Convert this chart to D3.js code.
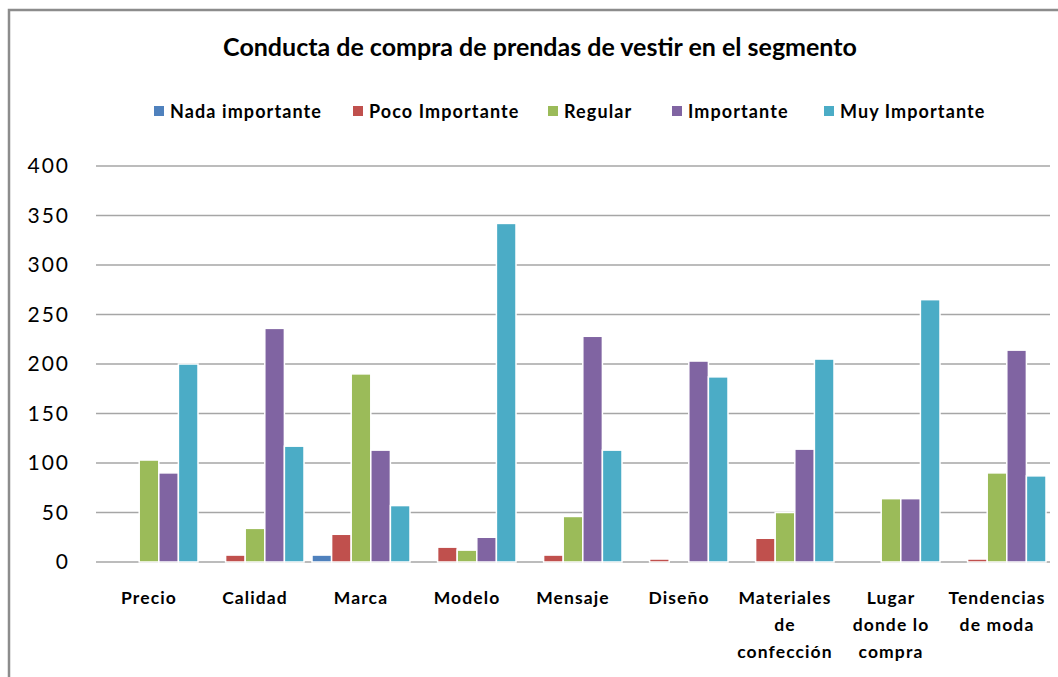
<!DOCTYPE html>
<html>
<head>
<meta charset="utf-8">
<script src="https://cdn.jsdelivr.net/npm/d3@7"></script>
<style>
  body { margin: 0; background: #fff; }
  text { font-family: Lato, "Open Sans", sans-serif; fill: #000; }
</style>
</head>
<body>
<svg id="chart"></svg>
<script>
const categories = [
  ["Precio"], ["Calidad"], ["Marca"], ["Modelo"], ["Mensaje"], ["Diseño"],
  ["Materiales", "de", "confección"], ["Lugar", "donde lo", "compra"], ["Tendencias", "de moda"]
];
const seriesNames = ["Nada importante", "Poco Importante", "Regular", "Importante", "Muy Importante"];
const colors = ["#4F81BD", "#C0504D", "#9BBB59", "#8064A2", "#4BACC6"];

const nadaImportante = [0, 0, 7, 0, 0, 0, 0, 0, 0];
const pocoImportante = [0, 7, 28, 15, 7, 3, 24, 0, 3];
const regular        = [103, 34, 190, 12, 46, 0, 50, 64, 90];
const importante     = [90, 236, 113, 25, 228, 203, 114, 64, 214];
const muyImportante  = [200, 117, 57, 342, 113, 187, 205, 265, 87];
const yTicks = [0, 50, 100, 150, 200, 250, 300, 350, 400];

const series = [nadaImportante, pocoImportante, regular, importante, muyImportante];

const W = 1058, H = 677;
const svg = d3.select("#chart").attr("width", W).attr("height", H);

// chart area border (left and top only visible)
svg.append("path")
  .attr("d", `M9,${H} V10 H${W}`)
  .attr("fill", "none")
  .attr("stroke", "#8c8c8c")
  .attr("stroke-width", 2.5);

const plot = { left: 96, right: 1050, top: 166, bottom: 562 };

const x = d3.scaleBand()
  .domain(categories.map((d, i) => i))
  .range([plot.left, plot.right]);

const xSub = d3.scaleBand()
  .domain(seriesNames.map((d, i) => i))
  .range([4, x.bandwidth() - 4]);

const y = d3.scaleLinear()
  .domain([0, 400])
  .range([plot.bottom, plot.top]);

// gridlines
svg.append("g")
  .selectAll("line")
  .data(yTicks)
  .join("line")
  .attr("x1", plot.left)
  .attr("x2", plot.right)
  .attr("y1", d => y(d))
  .attr("y2", d => y(d))
  .attr("stroke", "#a6a6a6")
  .attr("stroke-width", 1.5);

// y axis labels
const yAxis = d3.axisLeft(y).tickValues(yTicks).tickSize(0).tickPadding(26);
svg.append("g")
  .attr("transform", `translate(${plot.left},0)`)
  .call(yAxis)
  .call(g => g.select(".domain").remove())
  .call(g => g.selectAll("text")
    .style("font-family", "Lato, 'Open Sans', sans-serif")
    .style("font-size", "21px")
    .style("letter-spacing", "2px")
    .attr("fill", "#222"));

// bars
const groups = svg.append("g")
  .selectAll("g")
  .data(categories.map((c, i) => i))
  .join("g")
  .attr("transform", i => `translate(${x(i)},0)`);

groups.selectAll("rect")
  .data(i => series.map((s, k) => ({ k, v: s[i] })).filter(d => d.v > 0))
  .join("rect")
  .attr("x", d => xSub(d.k))
  .attr("width", xSub.bandwidth())
  .attr("y", d => y(d.v))
  .attr("height", d => y(0) - y(d.v))
  .attr("fill", d => colors[d.k])
  .attr("stroke", "#fff")
  .attr("stroke-width", 1.5);

// category labels
const lab = svg.append("g")
  .selectAll("text")
  .data(categories)
  .join("text")
  .attr("x", (d, i) => x(i) + x.bandwidth() / 2)
  .attr("y", 604)
  .attr("text-anchor", "middle")
  .style("font-size", "17.5px")
  .style("font-weight", "bold")
  .style("letter-spacing", "1.1px");
lab.selectAll("tspan")
  .data(d => d)
  .join("tspan")
  .attr("x", function () { return this.parentNode.getAttribute("x"); })
  .attr("dy", (d, i) => i === 0 ? 0 : 27)
  .text(d => d);

// title
svg.append("text")
  .attr("x", 540)
  .attr("y", 56)
  .attr("text-anchor", "middle")
  .style("font-size", "25px")
  .style("font-weight", "bold")
  .text("Conducta de compra de prendas de vestir en el segmento");

// legend
const legendX = [154, 353, 548, 672, 824];
const legend = svg.append("g")
  .selectAll("g")
  .data(seriesNames)
  .join("g")
  .attr("transform", (d, i) => `translate(${legendX[i]},111)`);
legend.append("rect")
  .attr("x", 0).attr("y", -5)
  .attr("width", 10).attr("height", 10)
  .attr("fill", (d, i) => colors[i]);
legend.append("text")
  .attr("x", 16)
  .attr("y", 6.5)
  .style("font-size", "18px")
  .style("font-weight", "bold")
  .style("letter-spacing", "1.1px")
  .text(d => d);
</script>
</body>
</html>
